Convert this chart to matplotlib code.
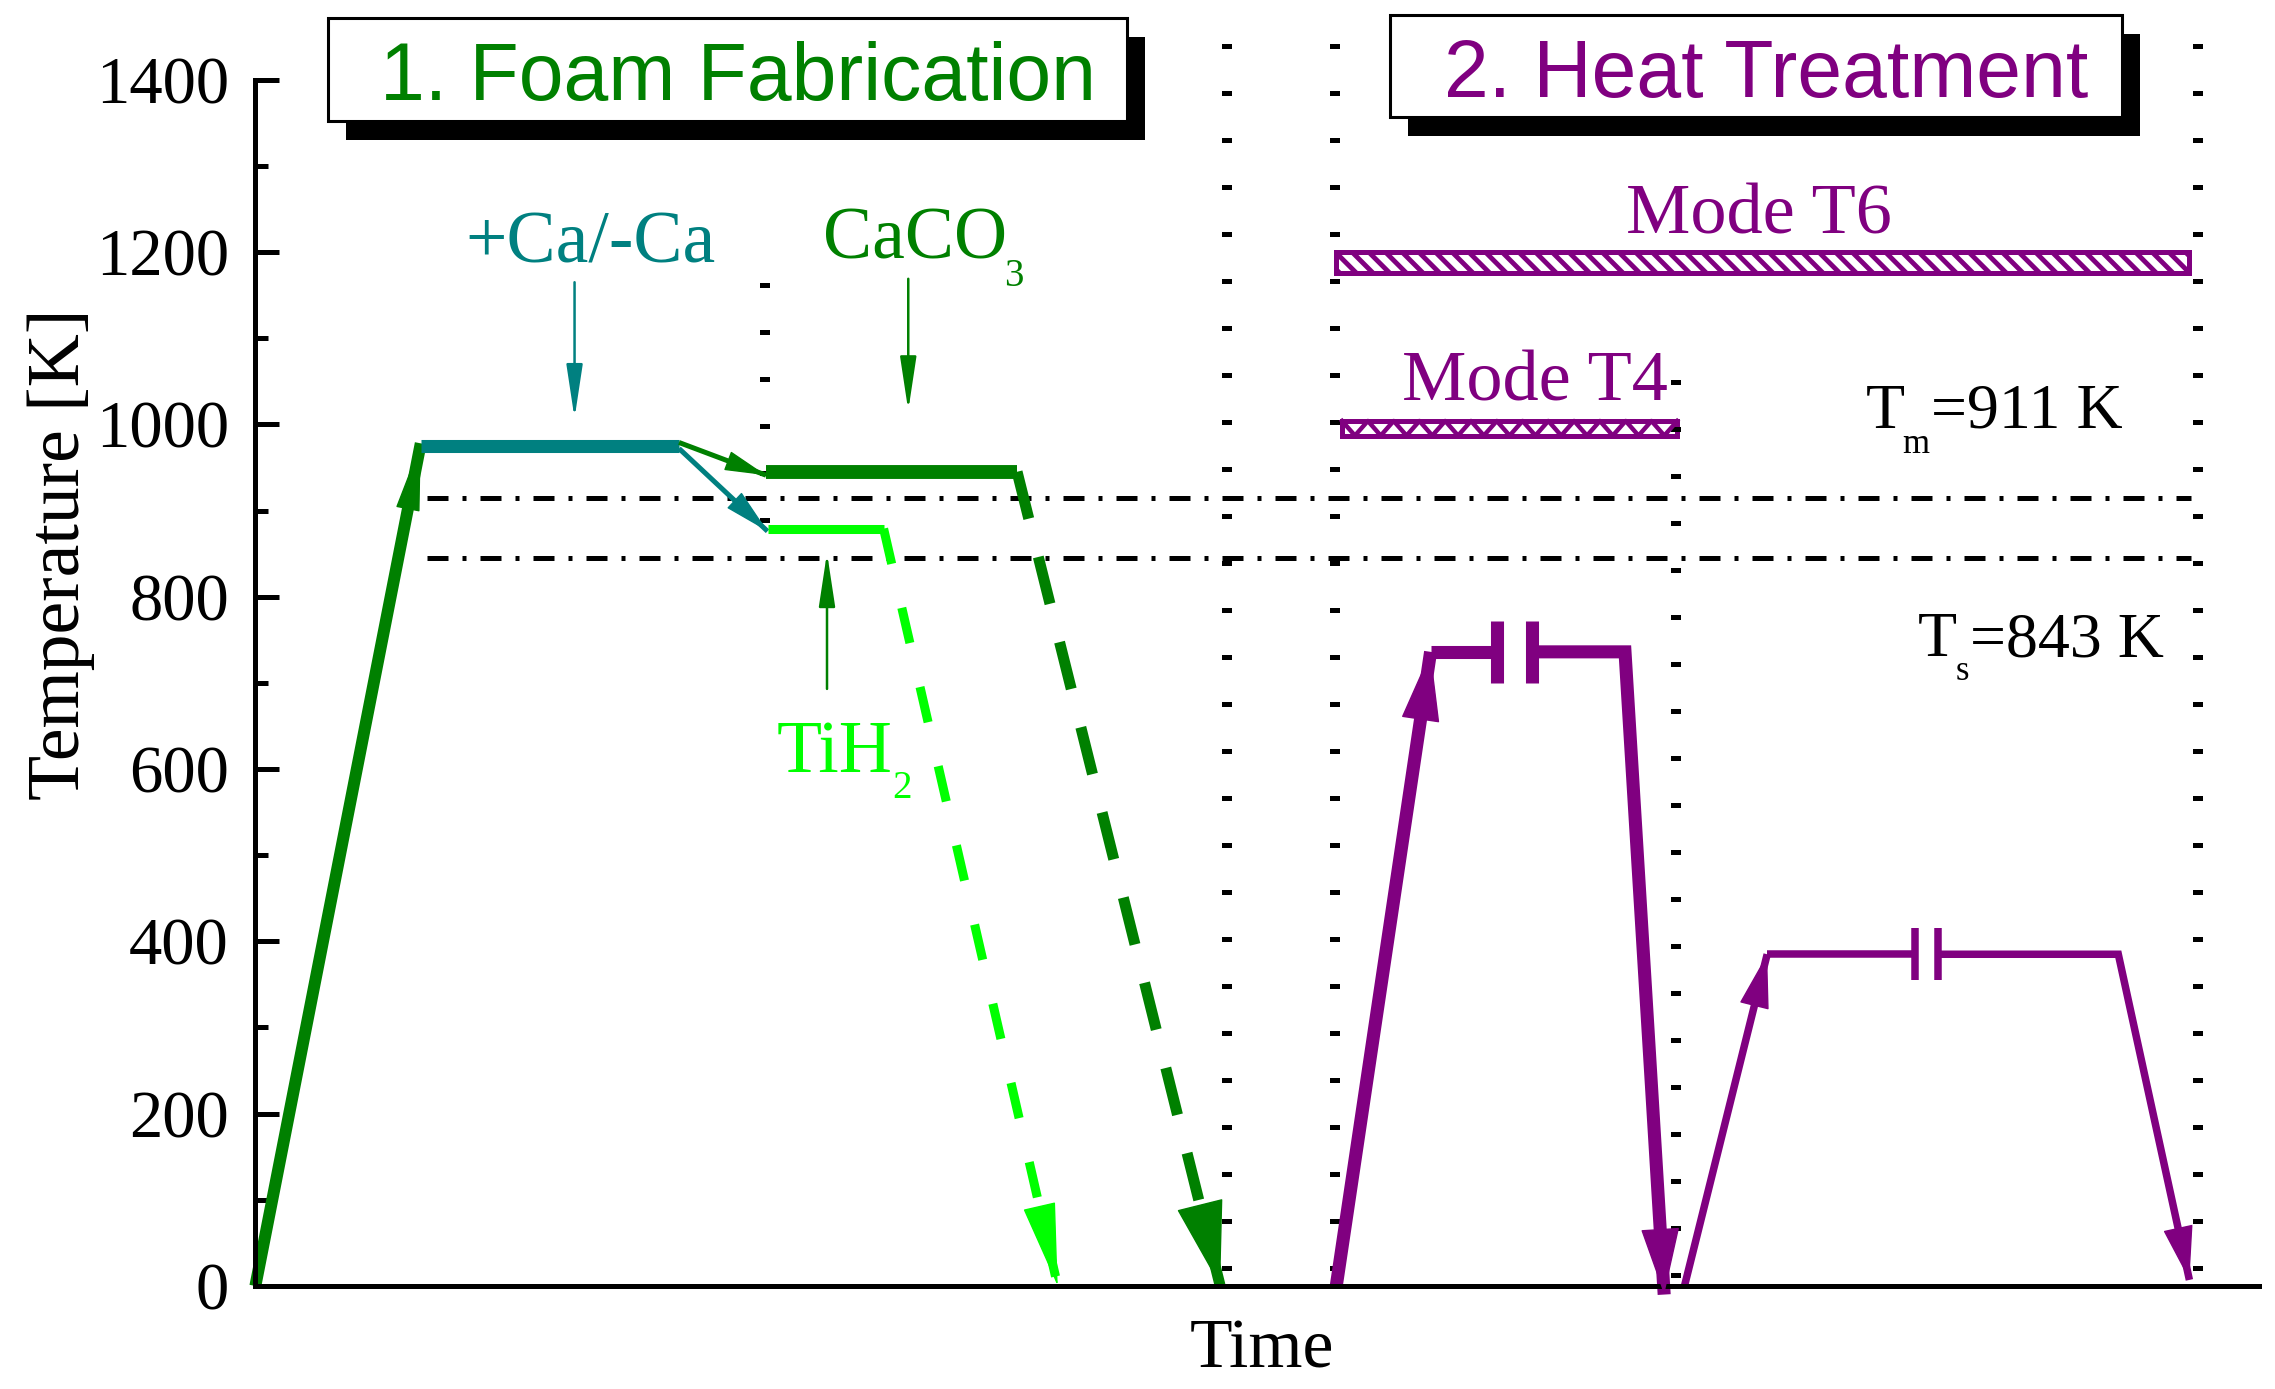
import numpy as np
import matplotlib.pyplot as plt
from matplotlib.patches import Rectangle
from matplotlib.ticker import MultipleLocator

plt.rcParams['font.family'] = ['Liberation Serif', 'DejaVu Serif']
plt.rcParams['hatch.linewidth'] = 3.5

GREEN = '#008000'
TEAL = '#008080'
LIME = '#00ff00'
PURPLE = '#800080'

# time is arbitrary (schematic), temperature in K
# 1. foam fabrication
heat_t = [0, 114]
heat_T = [0, 978]
hold_t = [114, 292]            # +Ca/-Ca hold
hold_T = [975, 975]
caco3_t = [352, 525, 665]      # hold start, hold end, end of cooling
caco3_T = [945, 945, 0]
tih2_t = [353, 433, 553]
tih2_T = [879, 879, 0]

# 2. heat treatment: rise start, hold start, break, break, hold end, cooled
cyc1_t = [745, 810, 856, 880, 944, 971]
cyc1_T = [0, 736, 736, 736, 736, -10]
cyc2_t = [985, 1042, 1144, 1160, 1284, 1333]
cyc2_T = [0, 385, 385, 385, 385, 7]

# mode bands
t6_t = [744.5, 1333]
t6_T = [1176, 1200]
t4_t = [749, 980]
t4_T = [987, 1004]

# melting / solidus reference lines
tm_level = 915
ts_level = 845
ref_t = [118, 1334]

# dotted separators: time, from, to
sep_t = [351, 670, 744, 979, 1339]
sep_from = [885, 17, 17, 1051, 17]
sep_to = [1165, 1450, 1450, 0, 1480]

fig = plt.figure(figsize=(22.75, 13.89), dpi=100)
ax = fig.add_axes([176 / 1568, 1 - 886 / 957, 1381 / 1568, 886 / 957])
ax.set_xlim(0, 1381)
ax.set_ylim(0, 1492.6)
for s in ('top', 'right'):
    ax.spines[s].set_visible(False)
ax.spines['left'].set_bounds(0, 1400)
ax.spines['left'].set_linewidth(3.6)
ax.spines['bottom'].set_linewidth(3.6)
ax.set_xticks([])
ax.set_yticks(np.arange(0, 1401, 200))
ax.yaxis.set_minor_locator(MultipleLocator(100))
ax.tick_params(axis='y', which='major', direction='in', length=17, width=3.6,
               pad=19, labelsize=48)
ax.tick_params(axis='y', which='minor', direction='in', length=9.6, width=3.6)


def fx(px):
    return px / 2275


def fy(py):
    return 1 - py / 1389


def seg(t, T, color, lw, **kw):
    ax.plot(t, T, color=color, lw=lw, solid_capstyle='butt', solid_joinstyle='miter',
            dash_capstyle='butt', clip_on=False, **kw)


def head(x0, y0, x1, y1, color, length, width):
    p0 = ax.transData.transform((x0, y0))
    p1 = ax.transData.transform((x1, y1))
    u = (p1 - p0) / np.hypot(*(p1 - p0))
    back = ax.transData.inverted().transform(p1 - u * length * 100 / 72 * 0.8)
    ax.annotate('', xy=(x1, y1), xytext=back,
                arrowprops=dict(arrowstyle=f'-|>,head_length={length},head_width={width}',
                                color=color, lw=1, shrinkA=0, shrinkB=0,
                                mutation_scale=1),
                annotation_clip=False)


def pointer(x, y0, y1, color):
    ax.annotate('', xy=(x, y1), xytext=(x, y0),
                arrowprops=dict(arrowstyle='-|>,head_length=33,head_width=5',
                                color=color, lw=1.8, shrinkA=0, shrinkB=0,
                                mutation_scale=1),
                annotation_clip=False)


# separators and reference lines
for t, a, b in zip(sep_t, sep_from, sep_to):
    ax.plot([t, t], [a, b], color='k', lw=7.2, dashes=(0.5, 4.2),
            dash_capstyle='butt', clip_on=False)
for lev in (tm_level, ts_level):
    ax.plot(ref_t, [lev, lev], color='k', lw=3.6, dashes=(4.2, 2.8, 0.8, 2.8),
            dash_capstyle='butt')

# foam fabrication
seg(heat_t, heat_T, GREEN, 8.6)
head(heat_t[0], heat_T[0], heat_t[1], heat_T[1], GREEN, 45, 8)
seg(hold_t, hold_T, TEAL, 9.4)

seg([hold_t[1], caco3_t[0]], [979, 941], GREEN, 3.6)
head(hold_t[1], 979, caco3_t[0], 941, GREEN, 27, 6.5)
seg([hold_t[1], tih2_t[0]], [972, 876], TEAL, 3.6)
head(hold_t[1], 972, tih2_t[0], 876, TEAL, 30, 7)

seg(caco3_t[:2], caco3_T[:2], GREEN, 10)
seg(caco3_t[1:], caco3_T[1:], GREEN, 7.9, dashes=(4.4, 3.6))
head(caco3_t[1], caco3_T[1], caco3_t[2], caco3_T[2], GREEN, 58, 16)

seg(tih2_t[:2], tih2_T[:2], LIME, 6.5)
seg(tih2_t[1:], tih2_T[1:], LIME, 6.5, dashes=(4.0, 5.0))
head(tih2_t[1], tih2_T[1], tih2_t[2], tih2_T[2], LIME, 56, 11)

# heat treatment cycles
for t, T, lw, bar, hr, hd in ((cyc1_t, cyc1_T, 9.4, 36, (47, 13), (45, 13)),
                              (cyc2_t, cyc2_T, 5.4, 30, (36, 10), (36, 10))):
    seg(t[:2], T[:2], PURPLE, lw)
    head(t[0], T[0], t[1], T[1], PURPLE, *hr)
    seg(t[1:3], T[1:3], PURPLE, lw)
    seg(t[3:], T[3:], PURPLE, lw)
    head(t[4], T[4], t[5], T[5], PURPLE, *hd)
    for tb in t[2:4]:
        seg([tb, tb], [T[2] - bar, T[2] + bar], PURPLE, lw)

# mode bands
ax.add_patch(Rectangle((t6_t[0], t6_T[0]), t6_t[1] - t6_t[0], t6_T[1] - t6_T[0],
                       fill=False, hatch='\\\\', edgecolor=PURPLE, lw=3.6, clip_on=False))
ax.add_patch(Rectangle((t4_t[0], t4_T[0]), t4_t[1] - t4_t[0], t4_T[1] - t4_T[0],
                       fill=False, edgecolor=PURPLE, lw=3.6, clip_on=False))
zz_x = np.linspace(t4_t[0], t4_t[1], 27)
zz_y = np.where(np.arange(27) % 2 == 0, t4_T[1], t4_T[0])
ax.plot(zz_x, zz_y, color=PURPLE, lw=3.2, clip_on=False)

# labels and pointers
ax.text(145, 1188, '+Ca/-Ca', color=TEAL, size=53, va='baseline')
pointer(220, 1165, 1007, TEAL)
ax.text(391, 1193, 'CaCO', color=GREEN, size=53, va='baseline')
ax.text(516, 1161, '3', color=GREEN, size=28, va='baseline')
pointer(450, 1169, 1016, GREEN)
ax.text(359, 596, 'TiH', color=LIME, size=53, va='baseline')
ax.text(439, 566, '2', color=LIME, size=28, va='baseline')
pointer(394, 693, 851, GREEN)

ax.text(945, 1221, 'Mode T6', color=PURPLE, size=52, va='baseline')
ax.text(790, 1028, 'Mode T4', color=PURPLE, size=52, va='baseline')

ax.text(1110, 996, 'T', size=46, va='baseline')
ax.text(1135, 967, 'm', size=25, va='baseline')
ax.text(1155, 996, '=911 K', size=46, va='baseline')
ax.text(1146, 731, 'T', size=46, va='baseline')
ax.text(1172, 703, 's', size=25, va='baseline')
ax.text(1182, 731, '=843 K', size=46, va='baseline')

fig.text(fx(1262), fy(1368), 'Time', size=50, ha='center', va='baseline')
fig.text(fx(61), fy(554), 'Temperature [K]', size=53, rotation=90,
         ha='center', va='center')

# title boxes with drop shadow
for (l, t, r, b), (tx, ty), label, col in (
        ((327.5, 18, 1127, 121), (738.5, 100), '1. Foam Fabrication', GREEN),
        ((1390, 15, 2122, 117), (1766, 97), '2. Heat Treatment', PURPLE)):
    fig.add_artist(Rectangle((fx(l + 18), fy(b + 19)), (r - l) / 2275, (b - t) / 1389,
                             transform=fig.transFigure, facecolor='k', edgecolor='none'))
    fig.add_artist(Rectangle((fx(l), fy(b)), (r - l) / 2275, (b - t) / 1389,
                             transform=fig.transFigure, facecolor='white',
                             edgecolor='k', lw=2.2))
    fig.text(fx(tx), fy(ty), label, family=['Liberation Sans', 'DejaVu Sans'],
             size=58, color=col, ha='center', va='baseline')

fig.savefig('out.png', dpi=100)
